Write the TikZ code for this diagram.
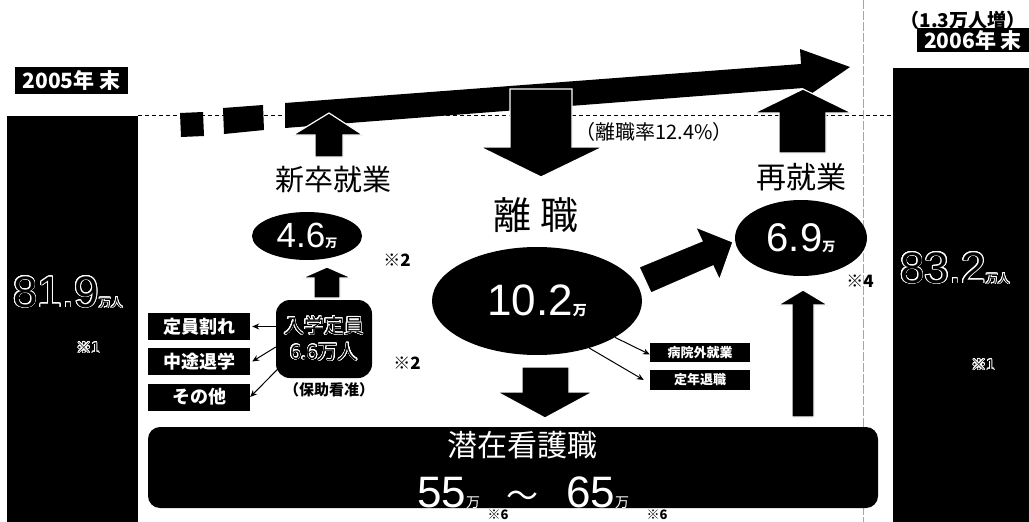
\documentclass[tikz,border=0pt]{standalone}
\usepackage{fontspec}
\setmainfont{Liberation Sans}
\newfontfamily\jp{Noto Sans CJK JP}
\usepackage{contour}
\contourlength{0.7pt}
\contournumber{24}
\usetikzlibrary{shapes.geometric,arrows.meta}
\newcommand\fsz[1]{\fontsize{#1}{#1}\selectfont}
\begin{document}
\begin{tikzpicture}[x=1pt,y=-1pt,
  blkarrow/.style={fill=black,draw=white,line width=1.2pt,line join=miter},
  tag/.style={fill=black,text=white,inner sep=0pt,font=\jp\bfseries\fsz{18}},
  smalltag/.style={fill=black,text=white,inner sep=0pt,minimum width=100,font=\jp\bfseries\fsz{13}},
  oval/.style={ellipse,fill=black,text=white,inner sep=0pt},
  heading/.style={font=\jp\fsz{29},inner sep=0pt},
  note/.style={font=\jp\bfseries\fsz{17},inner sep=0pt},
  yearbox/.style={fill=black,text=white,inner sep=0pt,font=\jp\bfseries\fsz{21}},
  thinarrow/.style={-{Stealth[length=7pt,width=6pt]},line width=1pt}
]
\useasboundingbox (0,0) rectangle (1029,522);
\fill[white] (0,0) rectangle (1029,522);

% guide lines
\draw[gray!70,line width=0.8pt,dash pattern=on 9pt off 2pt] (863,0) -- (863,522);
\draw[line width=0.9pt,dash pattern=on 4pt off 3pt] (138,115) -- (893,115);

% bars
\node[fill=black,inner sep=0pt,minimum width=131,minimum height=406,anchor=north west] (bar05) at (7,116) {};
\node[fill=black,inner sep=0pt,minimum width=136,minimum height=454,anchor=north west] (bar06) at (893,68) {};
\node[anchor=base west,inner sep=0pt] (v05) at (13,307) {{\fsz{44}\contour{white}{81.9}}{\jp\fsz{12}\contour{white}{万人}}};
\node[inner sep=0pt,font=\jp\fsz{15}] (n05) at (88,348) {\contour{white}{※1}};
\node[anchor=base west,inner sep=0pt] (v06) at (900,283) {{\fsz{44}\contour{white}{83.2}}{\jp\fsz{12}\contour{white}{万人}}};
\node[inner sep=0pt,font=\jp\fsz{15}] (n06) at (983,365) {\contour{white}{※1}};

% year labels
\node[yearbox,minimum width=113,minimum height=27] (y05) at (71.5,80.5) {2005年 末};
\node[yearbox,minimum width=112,minimum height=24] (y06) at (973,40) {2006年 末};
\node[inner sep=0pt,font=\jp\bfseries\fsz{19}] (inc) at (963,20) {（1.3万人増）};

% big rising arrow
\fill (180,113) -- (203,112) -- (204,136) -- (181,137) -- cycle;
\fill (223,108) -- (263,105) -- (264,130) -- (224,134) -- cycle;
\fill (285,103) -- (801,64) -- (800,49) -- (850,67) -- (805,98) -- (803,88) -- (285,128) -- cycle;

% block arrows
\filldraw[blkarrow] (510,89) -- (572,89) -- (572,147) -- (603,147) -- (541,177) -- (480,147) -- (510,147) -- cycle;
\filldraw[blkarrow] (315,157) -- (315,135) -- (293,135) -- (329,113) -- (363,135) -- (343,135) -- (343,157) -- cycle;
\filldraw[blkarrow] (779,153) -- (779,113) -- (754,113) -- (803,89) -- (852,113) -- (826,113) -- (826,153) -- cycle;
\filldraw[blkarrow] (314,298) -- (314,278) -- (302,278) -- (327,267) -- (352,278) -- (340,278) -- (340,298) -- cycle;
\filldraw[blkarrow] (792,417) -- (792,305) -- (778,305) -- (803,290) -- (828,305) -- (814,305) -- (814,417) -- cycle;
\filldraw[blkarrow] (522,367) -- (569,367) -- (569,392) -- (593,392) -- (545,418) -- (497,392) -- (522,392) -- cycle;
\filldraw[blkarrow] (639,267) -- (702,241) -- (695.5,227) -- (733,242) -- (719.5,280) -- (713,266) -- (651,293) -- cycle;

% headings
\node[heading] (shinsotsu) at (333,180) {新卒就業};
\node[heading,font=\jp\fsz{38}] (rishoku) at (536,215) {離\hspace{10pt}職};
\node[heading,font=\jp\fsz{30}] (saishu) at (801,177) {再就業};
\node[inner sep=0pt,font=\jp\fsz{20}] (rate) at (654,132) {（離職率12.4\%）};

% ellipses
\node[oval,minimum width=110,minimum height=48] (e46) at (307,236) {{\fsz{35}4.6}{\jp\bfseries\fsz{12}万}};
\node[oval,minimum width=210,minimum height=108] (e102) at (537,301) {{\fsz{44}10.2}{\jp\bfseries\fsz{14}万}};
\node[oval,minimum width=132,minimum height=76] (e69) at (801,238) {{\fsz{40}6.9}{\jp\bfseries\fsz{13}万}};
\node[note] (r2a) at (397,260) {※2};
\node[note] (r2b) at (407,363) {※2};
\node[note] (r4) at (860,281) {※4};

% entrance capacity box
\node[fill=black,rounded corners=14pt,minimum width=96,minimum height=78,inner sep=0pt,align=center,font=\jp\fsz{20}] (nyu) at (324,339)
  {\contour{white}{入学定員}\\[6pt]\contour{white}{6.6万人}};
\node[inner sep=0pt,font=\jp\bfseries\fsz{15}] (hojo) at (329,390) {（保助看准）};

% left tags
\node[tag,minimum width=102,minimum height=27] (teiin) at (199,326.5) {定員割れ};
\node[tag,minimum width=102,minimum height=27] (chuto) at (199,361.5) {中途退学};
\node[tag,minimum width=102,minimum height=27] (sonota) at (199,397) {その他};
\draw[thinarrow] (teiin.east -| nyu.west) -- ([xshift=2pt]teiin.east);
\draw[thinarrow] ([yshift=-8pt]nyu.west) -- ([xshift=2pt]chuto.east);
\draw[thinarrow] ([xshift=6pt,yshift=-26pt]nyu.west) -- ([xshift=0pt]sonota.east);

% right small tags
\node[smalltag,minimum height=19] (byoin) at (700,352.5) {病院外就業};
\node[smalltag,minimum height=20] (teinen) at (700,380) {定年退職};
\draw[thinarrow] (e102.-25) -- ([yshift=-2pt]byoin.west);
\draw[thinarrow] (e102.-42) -- ([xshift=-6pt]teinen.west);

% latent nurses box
\node[fill=black,rounded corners=12pt,minimum width=730,minimum height=81,inner sep=0pt] (sen) at (513,467.5) {};
\node[inner sep=0pt,text=white,font=\jp\fsz{30}] (sentitle) at (522,445) {潜在看護職};
\node[anchor=base west,inner sep=0pt,text=white] (senval) at (417,507)
  {{\fsz{44}55}{\jp\fsz{14}万}\hspace{26pt}{\jp\fsz{32}～}\hspace{28pt}{\fsz{44}65}{\jp\fsz{14}万}};
\node[inner sep=0pt,font=\jp\bfseries\fsz{13}] (r6a) at (498,515) {※6};
\node[inner sep=0pt,font=\jp\bfseries\fsz{13}] (r6b) at (657,515) {※6};
\end{tikzpicture}
\end{document}
